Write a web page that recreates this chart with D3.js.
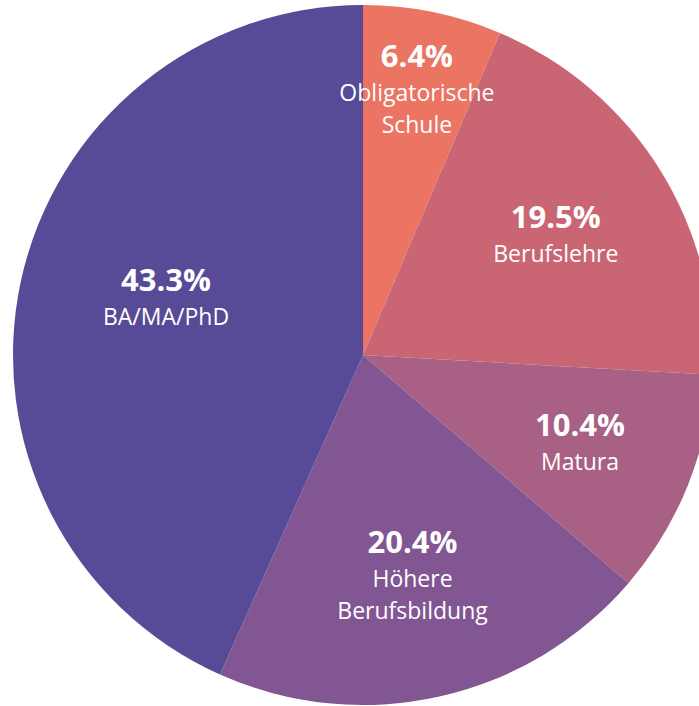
<!DOCTYPE html>
<html lang="de">
<head>
<meta charset="UTF-8">
<title>Bildungsabschluss</title>
<script src="https://d3js.org/d3.v7.min.js"></script>
<style>
  body { margin: 0; background: #fff; }
  svg { display: block; }
  text { fill: #fff; font-family: "Open Sans", sans-serif; text-anchor: middle; }
  .pct { font-weight: 700; font-size: 31px; }
  .lbl { font-size: 23px; }
</style>
</head>
<body>
<div id="chart"></div>
<script>
// data
var categories = ["Obligatorische Schule", "Berufslehre", "Matura", "Höhere Berufsbildung", "BA/MA/PhD"];
var labelLines = [["Obligatorische", "Schule"], ["Berufslehre"], ["Matura"], ["Höhere", "Berufsbildung"], ["BA/MA/PhD"]];
var values = [6.4, 19.5, 10.4, 20.4, 43.3];
var colors = ["#ec7462", "#ca6673", "#a96085", "#815692", "#574a96"];

var width = 699, height = 706;
var cx = 363, cy = 355, radius = 350;

var svg = d3.select("#chart").append("svg")
  .attr("width", width).attr("height", height);

var g = svg.append("g").attr("transform", "translate(" + cx + "," + cy + ")");

var pie = d3.pie().sort(null).value(function(d) { return d; });
var arcs = pie(values);

var arc = d3.arc().innerRadius(0).outerRadius(radius);

g.selectAll("path")
  .data(arcs)
  .enter()
  .append("path")
    .attr("d", arc)
    .attr("fill", function(d, i) { return colors[i]; });

// label placement: small slices pushed outward, big one pulled in a bit
function labelPos(d, i) {
  var mid = (d.startAngle + d.endAngle) / 2;
  var r = 227;
  if (d.endAngle - d.startAngle < 0.5) r = 270;
  if (i === 2) r = 234;
  if (i === 4) { mid += 4 * Math.PI / 180; r = 205; }
  return [r * Math.sin(mid), -r * Math.cos(mid)];
}

var labels = g.selectAll("g.label")
  .data(arcs)
  .enter()
  .append("g")
    .attr("class", "label")
    .attr("transform", function(d, i) {
      var p = labelPos(d, i);
      var n = labelLines[i].length;
      // vertically centre block of lines
      var top = -((n + 1) * 33) / 2;
      return "translate(" + p[0] + "," + (p[1] + top) + ")";
    });

labels.append("text")
  .attr("class", "pct")
  .attr("y", 26)
  .text(function(d) { return d3.format(".1f")(d.data) + "%"; });

labels.each(function(d, i) {
  var sel = d3.select(this);
  labelLines[i].forEach(function(line, k) {
    sel.append("text")
      .attr("class", "lbl")
      .attr("y", 26 + 34 + k * 32)
      .text(line);
  });
});
</script>
</body>
</html>
